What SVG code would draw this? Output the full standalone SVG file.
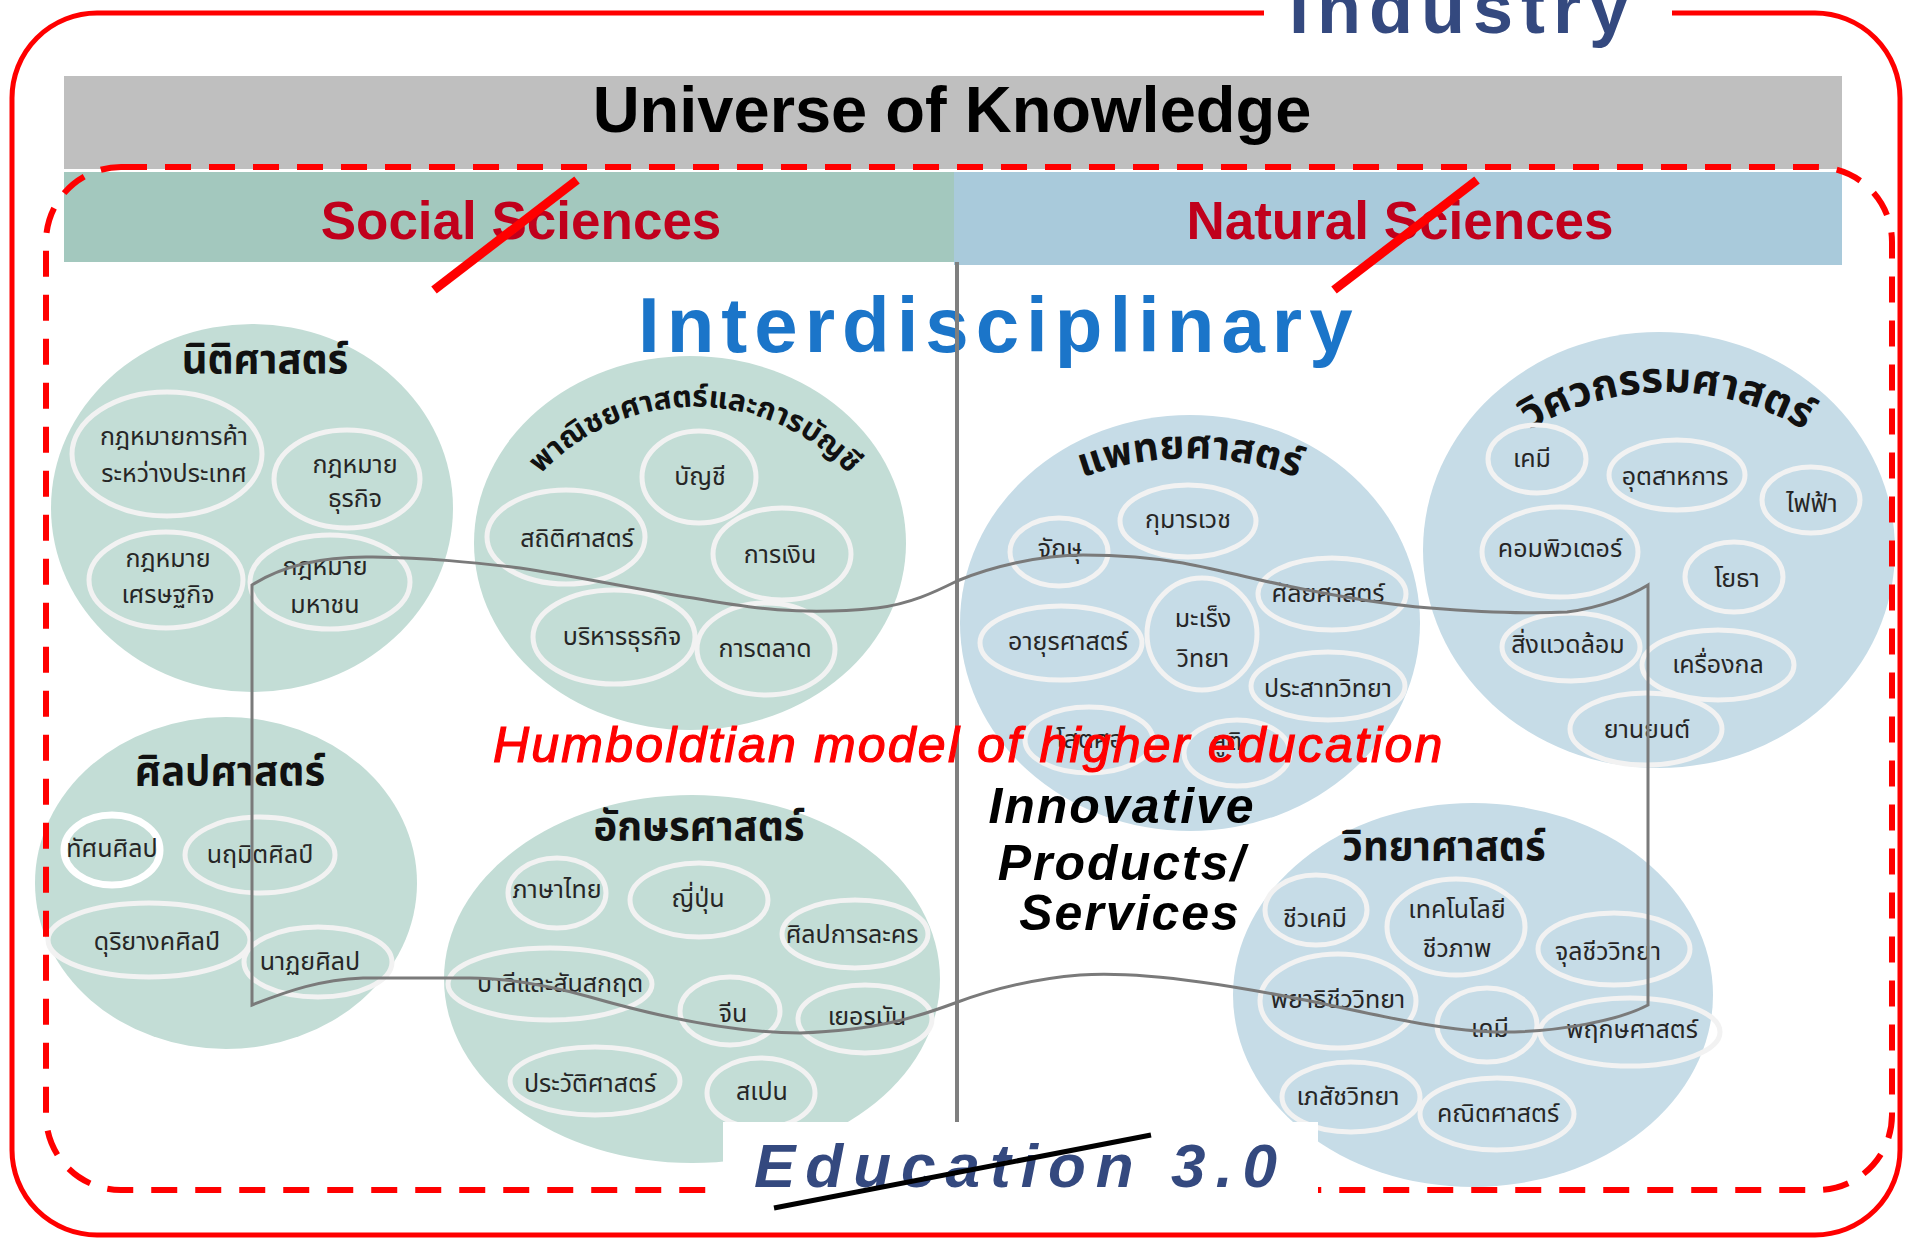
<svg xmlns="http://www.w3.org/2000/svg" width="1906" height="1238" viewBox="0 0 1906 1238">
<style>
.cg{fill:#c3ddd6}
.cb{fill:#c6dce7}
.e{fill:none;stroke:#f2f2f2;stroke-width:5}
.t{font-family:'Noto Sans Thai','Noto Sans','DejaVu Sans',sans-serif;font-size:25px;fill:#262626;text-anchor:middle}
.h{font-family:'Noto Sans Thai','Noto Sans','DejaVu Sans',sans-serif;font-size:40px;font-weight:bold;fill:#111;text-anchor:middle}
.en{font-family:'Liberation Sans',Arial,sans-serif}
</style>
<defs>
<path id="arcCom" d="M 511.3 515 A 210 210 0 0 1 878.7 515"/>
<path id="arcMed" d="M 971 549 A 310 310 0 0 1 1409 549"/>
<path id="arcEng" d="M 1437.5 524.5 A 265 265 0 0 1 1896.5 524.5"/>
</defs>
<rect width="1906" height="1238" fill="#fff"/>
<g id="industry">
<rect x="12" y="13" width="1888" height="1222" rx="85" fill="none" stroke="#ff0000" stroke-width="5"/>
<rect x="1264" y="0" width="408" height="30" fill="#fff"/>
<text x="1289" y="33" class="en" font-size="72" font-weight="bold" letter-spacing="8" fill="#34497f">Industry</text>
</g>
<g id="universe">
<rect x="64" y="76" width="1778" height="93" fill="#bfbfbf"/>
<text x="952" y="132" class="en" font-size="65" font-weight="bold" fill="#000" text-anchor="middle">Universe of Knowledge</text>
</g>
<g id="social-sciences">
<rect x="64" y="172" width="890" height="90" fill="#a3c8be"/>
<text x="521" y="239" class="en" font-size="53" font-weight="bold" fill="#c0001c" text-anchor="middle">Social Sciences</text>
<line x1="577" y1="180" x2="434" y2="290" stroke="#ff0000" stroke-width="9"/>
</g>
<g id="natural-sciences">
<rect x="954" y="172" width="888" height="93" fill="#a9cadb"/>
<text x="1400" y="239" class="en" font-size="53" font-weight="bold" fill="#c0001c" text-anchor="middle">Natural Sciences</text>
<line x1="1477" y1="180" x2="1334" y2="290" stroke="#ff0000" stroke-width="9"/>
</g>
<g id="law">
<ellipse class="cg" cx="252" cy="508" rx="201" ry="184"/>
<text class="h" x="265" y="373">นิติศาสตร์</text>
<ellipse class="e" cx="167" cy="454" rx="95" ry="62"/>
<ellipse class="e" cx="347" cy="479" rx="73" ry="49"/>
<ellipse class="e" cx="166" cy="580" rx="77" ry="48"/>
<ellipse class="e" cx="330" cy="582" rx="80" ry="47"/>
<text class="t" x="174" y="445">กฎหมายการค้า</text>
<text class="t" x="174" y="482">ระหว่างประเทศ</text>
<text class="t" x="355" y="473">กฎหมาย</text>
<text class="t" x="355" y="507">ธุรกิจ</text>
<text class="t" x="168" y="567">กฎหมาย</text>
<text class="t" x="168" y="603">เศรษฐกิจ</text>
<text class="t" x="325" y="575">กฎหมาย</text>
<text class="t" x="325" y="613">มหาชน</text>
</g>
<g id="commerce">
<ellipse class="cg" cx="690" cy="543" rx="216" ry="187"/>
<text class="h" style="font-size:30px"><textPath href="#arcCom" startOffset="50%">พาณิชยศาสตร์และการบัญชี</textPath></text>
<ellipse class="e" cx="699" cy="477" rx="57" ry="46"/>
<ellipse class="e" cx="566" cy="537" rx="79" ry="47"/>
<ellipse class="e" cx="782" cy="554" rx="69" ry="46"/>
<ellipse class="e" cx="614" cy="637" rx="81" ry="47"/>
<ellipse class="e" cx="766" cy="649" rx="69" ry="46"/>
<text class="t" x="700" y="485">บัญชี</text>
<text class="t" x="577" y="547">สถิติศาสตร์</text>
<text class="t" x="780" y="563">การเงิน</text>
<text class="t" x="622" y="645">บริหารธุรกิจ</text>
<text class="t" x="765" y="657">การตลาด</text>
</g>
<g id="medicine">
<ellipse class="cb" cx="1190" cy="623" rx="230" ry="208"/>
<text class="h"><textPath href="#arcMed" startOffset="50%">แพทยศาสตร์</textPath></text>
<ellipse class="e" cx="1059" cy="552" rx="49" ry="34"/>
<ellipse class="e" cx="1188" cy="521" rx="68" ry="36"/>
<ellipse class="e" cx="1332" cy="594" rx="74" ry="36"/>
<ellipse class="e" cx="1061" cy="643" rx="81" ry="37"/>
<ellipse class="e" cx="1202" cy="634" rx="55" ry="56"/>
<ellipse class="e" cx="1328" cy="686" rx="77" ry="34"/>
<ellipse class="e" cx="1089" cy="740" rx="64" ry="33"/>
<ellipse class="e" cx="1237" cy="753" rx="53" ry="33"/>
<text class="t" x="1060" y="557">จักษุ</text>
<text class="t" x="1188" y="528">กุมารเวช</text>
<text class="t" x="1328" y="602">ศัลยศาสตร์</text>
<text class="t" x="1068" y="650">อายุรศาสตร์</text>
<text class="t" x="1203" y="627">มะเร็ง</text>
<text class="t" x="1203" y="667">วิทยา</text>
<text class="t" x="1328" y="697">ประสาทวิทยา</text>
<text class="t" x="1090" y="748">โสตศอ</text>
<text class="t" x="1227" y="750">สูติ</text>
</g>
<g id="engineering">
<ellipse class="cb" cx="1659" cy="550" rx="236" ry="218"/>
<text class="h" style="font-size:42px"><textPath href="#arcEng" startOffset="50%">วิศวกรรมศาสตร์</textPath></text>
<ellipse class="e" cx="1537" cy="459" rx="49" ry="34"/>
<ellipse class="e" cx="1677" cy="475" rx="68" ry="35"/>
<ellipse class="e" cx="1811" cy="500" rx="49" ry="33"/>
<ellipse class="e" cx="1560" cy="552" rx="78" ry="45"/>
<ellipse class="e" cx="1734" cy="577" rx="49" ry="35"/>
<ellipse class="e" cx="1571" cy="647" rx="69" ry="34"/>
<ellipse class="e" cx="1718" cy="665" rx="76" ry="35"/>
<ellipse class="e" cx="1646" cy="729" rx="76" ry="36"/>
<text class="t" x="1532" y="467">เคมี</text>
<text class="t" x="1675" y="485">อุตสาหการ</text>
<text class="t" x="1812" y="512">ไฟฟ้า</text>
<text class="t" x="1560" y="557">คอมพิวเตอร์</text>
<text class="t" x="1737" y="587">โยธา</text>
<text class="t" x="1568" y="653">สิ่งแวดล้อม</text>
<text class="t" x="1718" y="673">เครื่องกล</text>
<text class="t" x="1647" y="738">ยานยนต์</text>
</g>
<g id="liberal-arts">
<ellipse class="cg" cx="226" cy="883" rx="191" ry="166"/>
<text class="h" x="230" y="785">ศิลปศาสตร์</text>
<ellipse class="e" cx="112" cy="850" rx="48" ry="35" style="stroke:#fff;stroke-width:7"/>
<ellipse class="e" cx="260" cy="855" rx="75" ry="38"/>
<ellipse class="e" cx="149" cy="940" rx="101" ry="37"/>
<ellipse class="e" cx="318" cy="962" rx="74" ry="35"/>
<text class="t" x="112" y="857">ทัศนศิลป</text>
<text class="t" x="260" y="863">นฤมิตศิลป์</text>
<text class="t" x="157" y="950">ดุริยางคศิลป์</text>
<text class="t" x="310" y="970">นาฏยศิลป</text>
</g>
<g id="arts">
<ellipse class="cg" cx="692" cy="979" rx="248" ry="184"/>
<text class="h" x="699" y="840">อักษรศาสตร์</text>
<ellipse class="e" cx="557" cy="893" rx="49" ry="35"/>
<ellipse class="e" cx="699" cy="900" rx="69" ry="37"/>
<ellipse class="e" cx="855" cy="934" rx="73" ry="34"/>
<ellipse class="e" cx="550" cy="984" rx="102" ry="36"/>
<ellipse class="e" cx="730" cy="1011" rx="50" ry="34"/>
<ellipse class="e" cx="865" cy="1019" rx="67" ry="34"/>
<ellipse class="e" cx="595" cy="1081" rx="85" ry="34"/>
<ellipse class="e" cx="761" cy="1093" rx="54" ry="35"/>
<text class="t" x="557" y="898">ภาษาไทย</text>
<text class="t" x="698" y="907">ญี่ปุ่น</text>
<text class="t" x="852" y="943">ศิลปการละคร</text>
<text class="t" x="560" y="992">บาลีและสันสกฤต</text>
<text class="t" x="733" y="1022">จีน</text>
<text class="t" x="867" y="1025">เยอรมัน</text>
<text class="t" x="590" y="1092">ประวัติศาสตร์</text>
<text class="t" x="762" y="1100">สเปน</text>
</g>
<g id="science">
<ellipse class="cb" cx="1473" cy="995" rx="240" ry="192"/>
<text class="h" x="1444" y="860">วิทยาศาสตร์</text>
<ellipse class="e" cx="1316" cy="910" rx="51" ry="35"/>
<ellipse class="e" cx="1456" cy="927" rx="69" ry="48"/>
<ellipse class="e" cx="1614" cy="949" rx="76" ry="36"/>
<ellipse class="e" cx="1338" cy="1001" rx="78" ry="47"/>
<ellipse class="e" cx="1487" cy="1025" rx="50" ry="37"/>
<ellipse class="e" cx="1630" cy="1032" rx="90" ry="34"/>
<ellipse class="e" cx="1351" cy="1097" rx="69" ry="35"/>
<ellipse class="e" cx="1497" cy="1114" rx="77" ry="36"/>
<text class="t" x="1315" y="927">ชีวเคมี</text>
<text class="t" x="1457" y="918">เทคโนโลยี</text>
<text class="t" x="1457" y="957">ชีวภาพ</text>
<text class="t" x="1608" y="960">จุลชีววิทยา</text>
<text class="t" x="1338" y="1008">พยาธิชีววิทยา</text>
<text class="t" x="1490" y="1037">เคมี</text>
<text class="t" x="1632" y="1038">พฤกษศาสตร์</text>
<text class="t" x="1348" y="1105">เภสัชวิทยา</text>
<text class="t" x="1498" y="1122">คณิตศาสตร์</text>
</g>
<g id="interdisciplinary">
<text x="638" y="352" class="en" font-size="78" font-weight="bold" letter-spacing="7" fill="#1b75c9">Interdisciplinary</text>
</g>
<g id="connectors">
<line x1="957" y1="262" x2="957" y2="1122" stroke="#7f7f7f" stroke-width="4"/>
<path d="M 252 1005 L 252 585 C 280 567, 320 556, 373 557 C 430 558, 470 562, 520 568 C 580 577, 640 590, 693 598 C 750 608, 800 616, 877 608 C 910 604, 935 592, 957 581 C 990 567, 1040 555, 1083 555 C 1130 555, 1160 559, 1183 563 C 1220 570, 1250 578, 1283 585 C 1340 597, 1390 605, 1430 608 C 1480 612, 1530 614, 1567 612 C 1600 608, 1630 596, 1648 585 L 1648 1005 C 1620 1020, 1560 1032, 1503 1032 C 1450 1032, 1380 1016, 1320 1003 C 1270 993, 1230 986, 1200 982 C 1150 975, 1110 973, 1080 975 C 1030 979, 990 990, 955 1003 C 920 1016, 880 1030, 800 1033 C 740 1033, 670 1020, 590 997 C 550 986, 510 978, 470 978 L 363 978 C 320 980, 290 990, 252 1005 Z" fill="none" stroke="#7a7a7a" stroke-width="3"/>
</g>
<g id="humboldt">
<text x="493" y="762" class="en" font-size="50" font-style="italic" letter-spacing="2.2" fill="#ff0000" stroke="#ff0000" stroke-width="1.2">Humboldtian model of higher education</text>
</g>
<g id="innovative">
<text class="en" font-size="50" font-weight="bold" font-style="italic" letter-spacing="2" fill="#000" text-anchor="middle">
<tspan x="1130" y="823">Innovative</tspan>
<tspan x="1130" y="880">Products/</tspan>
<tspan x="1130" y="930">Services</tspan>
</text>
</g>
<g id="education-frame">
<rect x="46" y="167" width="1846" height="1023" rx="75" fill="none" stroke="#ff0000" stroke-width="6" stroke-dasharray="26 18"/>
</g>
<g id="education">
<rect x="723" y="1122" width="595" height="106" fill="#fff"/>
<rect x="712" y="1180" width="11" height="20" fill="#fff"/>
<text x="754" y="1187" class="en" font-size="62" font-weight="bold" font-style="italic" letter-spacing="10" fill="#34497f">Education 3.0</text>
<line x1="774" y1="1208" x2="1151" y2="1135" stroke="#000" stroke-width="5"/>
</g>
</svg>
